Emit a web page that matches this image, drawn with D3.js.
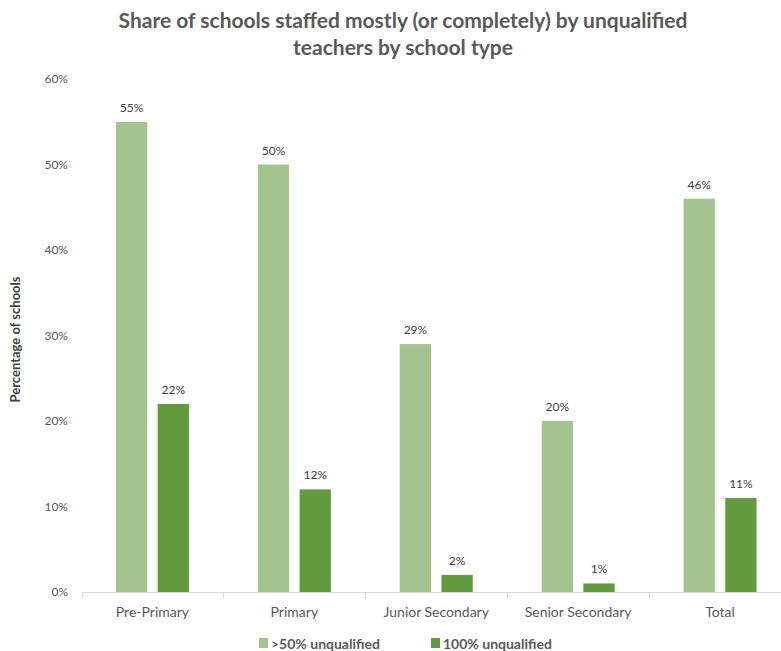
<!DOCTYPE html>
<html>
<head>
<meta charset="utf-8">
<script src="https://cdn.jsdelivr.net/npm/d3@7"></script>
<style>
  html, body { margin: 0; padding: 0; background: #fff; overflow: hidden; }
  svg { display: block; font-family: Lato, "Open Sans", sans-serif; }
</style>
</head>
<body>
<svg id="chart" width="781" height="651"></svg>
<script>
const categories = ["Pre-Primary", "Primary", "Junior Secondary", "Senior Secondary", "Total"];
const seriesNames = [">50% unqualified", "100% unqualified"];
const over50 = [55, 50, 29, 20, 46];
const full100 = [22, 12, 2, 1, 11];
const yTicks = [0, 10, 20, 30, 40, 50, 60];
const colors = ["#A3C48F", "#629A3E"];

const svg = d3.select("#chart");
const x0 = 81.5, x1 = 791, yTop = 79, yBot = 592;

const x = d3.scaleBand().domain(categories).range([x0, x1]).paddingInner(0).paddingOuter(0);
const y = d3.scaleLinear().domain([0, 60]).range([yBot, yTop]);
const sub = d3.scaleBand().domain(seriesNames).range([-36.5, 36.5]).paddingInner(0.25);

// title
svg.append("text").attr("x", 403).attr("y", 28).attr("text-anchor", "middle")
  .attr("font-size", 21).attr("font-weight", "bold").attr("fill", "#595959")
  .text("Share of schools staffed mostly (or completely) by unqualified");
svg.append("text").attr("x", 403).attr("y", 55).attr("text-anchor", "middle")
  .attr("font-size", 21).attr("font-weight", "bold").attr("fill", "#595959")
  .text("teachers by school type");

// y axis labels
const yAxis = d3.axisLeft(y).tickValues(yTicks).tickFormat(d => d + "%").tickSize(0).tickPadding(0);
const yg = svg.append("g").attr("transform", `translate(68,0)`).call(yAxis);
yg.select(".domain").remove();
yg.selectAll("text").attr("font-size", 12).attr("fill", "#595959").attr("font-family", "Lato, 'Open Sans', sans-serif");

// y title
svg.append("text").attr("transform", `translate(20,${(yTop + yBot) / 2 + 4}) rotate(-90)`)
  .attr("text-anchor", "middle").attr("font-size", 13).attr("font-weight", "bold").attr("fill", "#404040")
  .text("Percentage of schools");

// bars
const data = categories.map((c, i) => ({ c, vals: [over50[i], full100[i]] }));
const groups = svg.append("g").selectAll("g").data(data).join("g")
  .attr("transform", d => `translate(${x(d.c) + x.bandwidth() / 2},0)`);
groups.selectAll("rect").data(d => d.vals.map((v, j) => ({ v, s: seriesNames[j], j })))
  .join("rect")
  .attr("x", d => sub(d.s)).attr("width", sub.bandwidth())
  .attr("y", d => y(d.v)).attr("height", d => yBot - y(d.v))
  .attr("fill", d => colors[d.j]);
groups.selectAll("text.lbl").data(d => d.vals.map((v, j) => ({ v, s: seriesNames[j], j })))
  .join("text").attr("class", "lbl")
  .attr("x", d => sub(d.s) + sub.bandwidth() / 2).attr("y", d => y(d.v) - 10)
  .attr("text-anchor", "middle").attr("font-size", 12).attr("fill", "#404040")
  .text(d => d.v + "%");

// x axis
const xg = svg.append("g").attr("transform", `translate(0,${yBot})`);
xg.append("line").attr("x1", x0).attr("x2", x1).attr("y1", 0.5).attr("y2", 0.5).attr("stroke", "#D9D9D9");
const tickPos = categories.map(c => x(c)).concat([x1]);
xg.selectAll("line.tk").data(tickPos).join("line").attr("class", "tk")
  .attr("x1", d => Math.round(d) + 0.5).attr("x2", d => Math.round(d) + 0.5).attr("y1", 0).attr("y2", 6)
  .attr("stroke", "#D9D9D9");
xg.selectAll("text").data(categories).join("text")
  .attr("x", d => x(d) + x.bandwidth() / 2).attr("y", 25)
  .attr("text-anchor", "middle").attr("font-size", 14).attr("fill", "#595959")
  .text(d => d);

// legend
const legendX = [259, 431];
const lg = svg.append("g");
seriesNames.forEach((s, i) => {
  lg.append("rect").attr("x", legendX[i]).attr("y", 638).attr("width", 9).attr("height", 10).attr("fill", colors[i]);
  lg.append("text").attr("x", legendX[i] + 12).attr("y", 649).attr("font-size", 14).attr("font-weight", "bold")
    .attr("fill", "#595959").text(s);
});
</script>
</body>
</html>
